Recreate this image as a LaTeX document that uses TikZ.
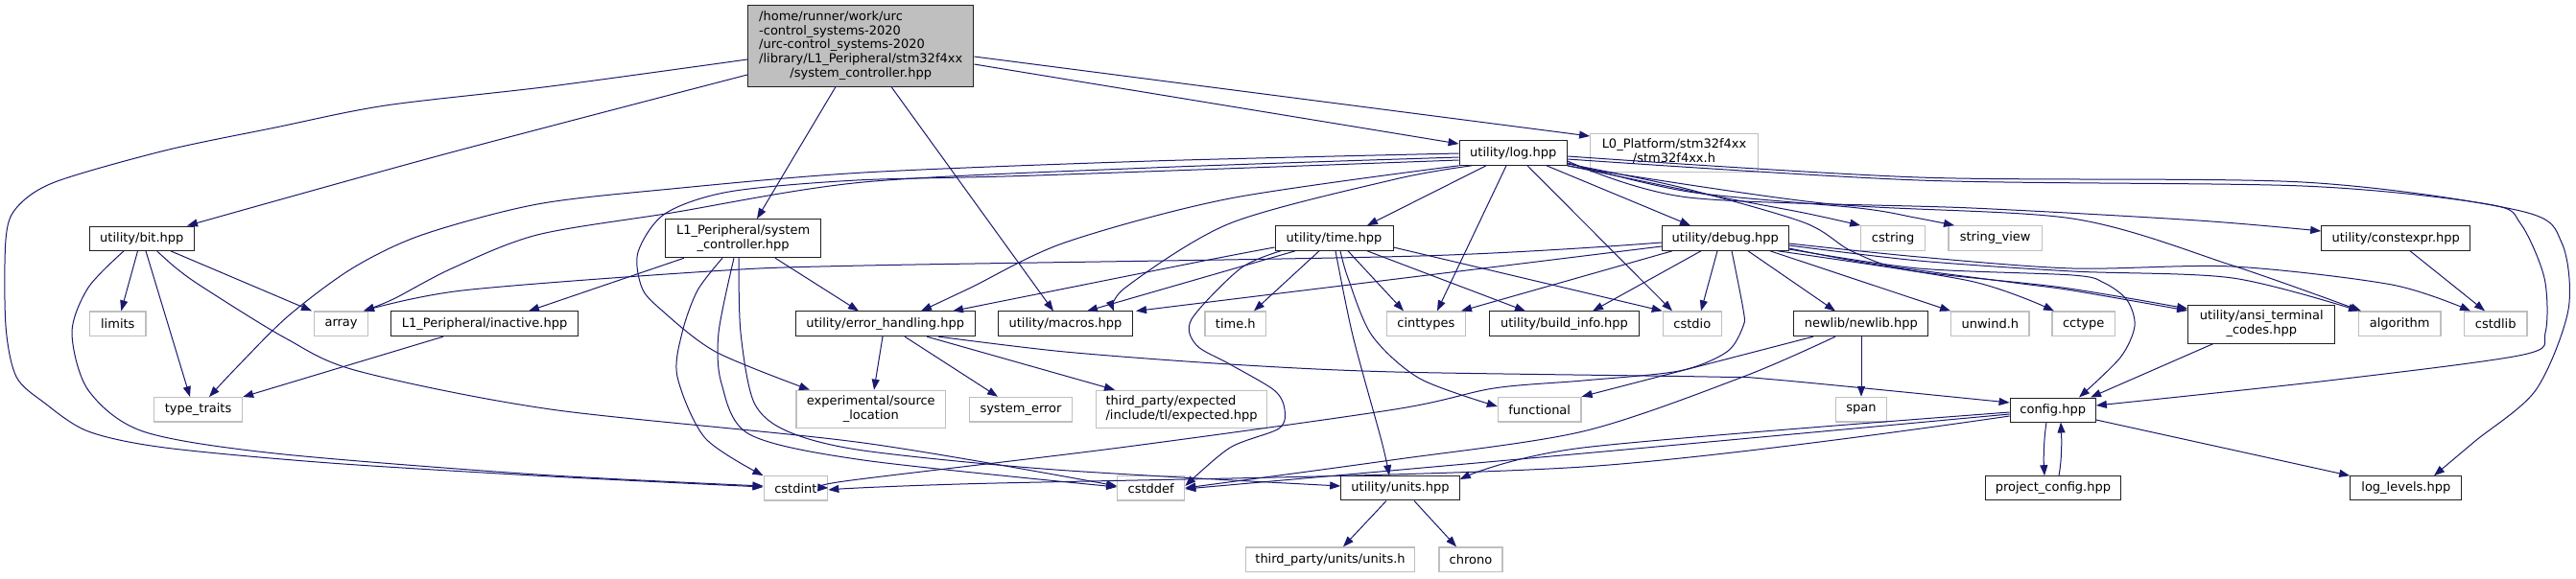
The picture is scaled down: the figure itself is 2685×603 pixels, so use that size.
\documentclass[tikz,border=0pt]{standalone}
\usepackage{fontspec}
\setmainfont{DejaVu Sans}
\usetikzlibrary{arrows.meta}
\definecolor{mb}{HTML}{191970}
\definecolor{gry}{HTML}{BFBFBF}
\definecolor{bd}{HTML}{202020}
\newcommand\nf{\fontsize{13}{14.8}\selectfont}
\newcommand\twol[2]{\begin{tabular}{@{}l@{}}#1\\\multicolumn{1}{@{}c@{}}{#2}\end{tabular}}
\tikzset{
  nd/.style={draw=bd, fill=white, line width=1pt, inner sep=0pt, font=\nf},
  ext/.style={draw=gry, fill=white, line width=1.2pt, inner sep=0pt, font=\nf},
  rootst/.style={draw=bd, fill=gry, line width=1pt, inner sep=0pt, font=\nf},
  e/.style={draw=mb, line width=1pt, -{Triangle[length=11pt,width=8pt]}, fill=none},
}
\begin{document}
\begin{tikzpicture}[x=1pt,y=-1pt]
\useasboundingbox (0,0) rectangle (2685,603);
\fill[white] (0,0) rectangle (2685,603);
% ---------- nodes ----------
\node[rootst, minimum width=235.5pt, minimum height=84.3pt] (root) at (897.2,47.9) {\begin{tabular}{@{}l@{}}/home/runner/work/urc\\-control\_systems-2020\\/urc-control\_systems-2020\\/library/L1\_Peripheral/stm32f4xx\\\multicolumn{1}{@{}c@{}}{/system\_controller.hpp}\end{tabular}};
\node[nd, minimum width=112.3pt, minimum height=25.6pt] (log) at (1577.2,159.5) {utility/log.hpp};
\node[ext, minimum width=174.6pt, minimum height=40pt] (lzero) at (1745,159.2) {\twol{L0\_Platform/stm32f4xx}{/stm32f4xx.h}};
\node[nd, minimum width=109.6pt, minimum height=25.4pt] (bit) at (147.8,248.7) {utility/bit.hpp};
\node[nd, minimum width=162.4pt, minimum height=40pt] (lsc) at (774.6,248.7) {\twol{L1\_Peripheral/system}{\_controller.hpp}};
\node[nd, minimum width=123pt, minimum height=25.6pt] (time) at (1390.5,248.5) {utility/time.hpp};
\node[nd, minimum width=132pt, minimum height=25.6pt] (debug) at (1798.3,248.5) {utility/debug.hpp};
\node[ext, minimum width=67pt, minimum height=25.6pt] (cstring) at (1973.2,248.5) {cstring};
\node[ext, minimum width=97.3pt, minimum height=25.6pt] (strview) at (2079.7,248.5) {string\_view};
\node[nd, minimum width=155pt, minimum height=25.6pt] (constexpr) at (2497.2,248.5) {utility/constexpr.hpp};
% rank 3
\node[ext, minimum width=58.5pt, minimum height=25.7pt] (limits) at (122.8,337.8) {limits};
\node[ext, minimum width=55.7pt, minimum height=25.7pt] (array) at (355.6,337.8) {array};
\node[nd, minimum width=195.2pt, minimum height=25.7pt] (inactive) at (505.1,337.8) {L1\_Peripheral/inactive.hpp};
\node[nd, minimum width=186.6pt, minimum height=25.7pt] (errh) at (922.7,337.8) {utility/error\_handling.hpp};
\node[nd, minimum width=139.5pt, minimum height=25.7pt] (macros) at (1110.5,337.8) {utility/macros.hpp};
\node[ext, minimum width=63.7pt, minimum height=25.7pt] (timeh) at (1287.8,337.8) {time.h};
\node[ext, minimum width=82.1pt, minimum height=25.7pt] (cinttypes) at (1486.4,337.8) {cinttypes};
\node[nd, minimum width=156pt, minimum height=25.7pt] (buildinfo) at (1630.5,337.8) {utility/build\_info.hpp};
\node[ext, minimum width=61pt, minimum height=25.7pt] (cstdio) at (1763.8,337.8) {cstdio};
\node[nd, minimum width=140.3pt, minimum height=25.7pt] (newlib) at (1939.8,337.8) {newlib/newlib.hpp};
\node[ext, minimum width=81.3pt, minimum height=25.7pt] (unwind) at (2074.3,337.8) {unwind.h};
\node[ext, minimum width=65.3pt, minimum height=25.7pt] (cctype) at (2171.7,337.8) {cctype};
\node[nd, minimum width=153.3pt, minimum height=40pt] (ansi) at (2357.3,338) {\twol{utility/ansi\_terminal}{\_codes.hpp}};
\node[ext, minimum width=85.7pt, minimum height=25.7pt] (algorithm) at (2501.2,337.8) {algorithm};
\node[ext, minimum width=65.7pt, minimum height=25.7pt] (cstdlib) at (2601.2,337.8) {cstdlib};
% rank 4
\node[ext, minimum width=91.9pt, minimum height=25.3pt] (ttraits) at (206.6,427.3) {type\_traits};
\node[ext, minimum width=155.6pt, minimum height=39.4pt] (expsl) at (907.8,427) {\twol{experimental/source}{\_location}};
\node[ext, minimum width=107.3pt, minimum height=25.7pt] (syserr) at (1064,427.2) {system\_error};
\node[ext, minimum width=178.5pt, minimum height=39.4pt] (expected) at (1231.6,427) {\twol{third\_party/expected}{/include/tl/expected.hpp}};
\node[ext, minimum width=86.6pt, minimum height=25.7pt] (functional) at (1604.7,427.2) {functional};
\node[ext, minimum width=53.3pt, minimum height=25.7pt] (span) at (1940,427.2) {span};
\node[nd, minimum width=89.3pt, minimum height=25pt] (config) at (2139.7,427.5) {config.hpp};
% rank 5
\node[ext, minimum width=66.6pt, minimum height=25.3pt] (cstdint) at (829.4,509.3) {cstdint};
\node[ext, minimum width=70pt, minimum height=25.3pt] (cstddef) at (1199.7,509.3) {cstddef};
\node[nd, minimum width=123.5pt, minimum height=25.3pt] (units) at (1459.5,509.3) {utility/units.hpp};
\node[nd, minimum width=141.6pt, minimum height=25.3pt] (pconfig) at (2139.9,509.3) {project\_config.hpp};
\node[nd, minimum width=116.3pt, minimum height=25pt] (loglevels) at (2507.8,509.2) {log\_levels.hpp};
% rank 6
\node[ext, minimum width=176.3pt, minimum height=25.7pt] (unitsh) at (1386.5,583.8) {third\_party/units/units.h};
\node[ext, minimum width=66pt, minimum height=25.7pt] (chrono) at (1532.9,583.8) {chrono};
% ---------- edges ----------
% root
\draw[e] plot[smooth] coordinates {(root.west |- 0,62) (574,90) (402,110) (287,133) (172,157) (57,190) (17,217) (6,250) (6,340) (17,393) (46,420) (92,450) (172,467) (344,483) (574,497) (cstdint.west |- 0,508)};
\draw[e] plot[smooth] coordinates {(root.west |- 0,78) (459,162) (bit.north -| 195,0)};
\draw[e] (root.south -| 871,0) -- (lsc.north -| 789,0);
\draw[e] (root.south -| 929,0) -- (macros.north -| 1098,0);
\draw[e] (root.east |- 0,67) -- (log.west |- 0,150);
\draw[e] (root.east |- 0,59) -- (lzero.west |- 0,142);
% bit
\draw[e] plot[smooth] coordinates {(bit.south -| 129,0) (92,300) (75,347) (92,407) (149,450) (287,473) (560,495) (cstdint.west |- 0,507)};
\draw[e] (bit.south -| 143.5,0) -- (limits.north -| 126.3,0);
\draw[e] (bit.south -| 152,0) -- (ttraits.north -| 198,0);
\draw[e] plot[smooth] coordinates {(bit.south -| 163.6,0) (184,280) (212,300) (298,353) (373,387) (574,427) (900,462) (cstddef.west |- 0,507)};
\draw[e] (bit.south -| 178,0) -- (array.north -| 325,0);
% L1P system controller
\draw[e] (lsc.south -| 713,0) -- (inactive.north -| 551,0);
\draw[e] (lsc.south -| 808,0) -- (errh.north -| 895,0);
\draw[e] plot[smooth] coordinates {(lsc.south -| 753,0) (727,303) (711,347) (706,393) (735,457) (cstdint.north west)};
\draw[e] plot[smooth] coordinates {(lsc.south -| 765,0) (749,347) (752,400) (781,453) (900,480) (cstddef.west |- 0,508)};
\draw[e] plot[smooth] coordinates {(lsc.south -| 770,0) (772,347) (786,420) (821,450) (900,470) (1100,490) (units.west |- 0,507)};
\draw[e] (inactive.south -| 462,0) -- (ttraits.north east);
% log
\draw[e] plot[smooth] coordinates {(log.west |- 0,160) (1200,168) (900,180) (700,197) (560,213) (440,245) (367,280) (300,330) (245,385) (ttraits.north -| 218,0)};
\draw[e] plot[smooth] coordinates {(log.west |- 0,164) (1200,175) (900,190) (700,222) (560,245) (471,280) (410,312) (array.north -| 379,0)};
\draw[e] plot[smooth] coordinates {(log.west |- 0,167) (1080,183) (893,188) (760,200) (693,223) (665,263) (669,300) (689,323) (746,367) (expsl.north -| 844,0)};
\draw[e] plot[smooth] coordinates {(log.south west) (1282,207) (1110,253) (1012,300) (errh.north -| 960,0)};
\draw[e] plot[smooth] coordinates {(log.south -| 1534,0) (1454,187) (1282,233) (1173,300) (macros.north -| 1161,0)};
\draw[e] (log.south -| 1549,0) -- (time.north -| 1425,0);
\draw[e] (log.south -| 1570,0) -- (cinttypes.north -| 1498,0);
\draw[e] (log.south -| 1592,0) -- (cstdio.north -| 1743,0);
\draw[e] (log.south -| 1612,0) -- (debug.north -| 1762,0);
\draw[e] plot[smooth] coordinates {(log.south east) (1780,203) (1880,222) (cstring.north west)};
\draw[e] plot[smooth] coordinates {(log.east |- 0,170) (1760,200) (1937,217) (1996,227) (strview.north -| 2037,0)};
\draw[e] plot[smooth] coordinates {(log.east |- 0,168) (1760,206) (2055,217) (2291,230) (constexpr.west |- 0,241)};
\draw[e] plot[smooth] coordinates {(log.east |- 0,173) (1900,212) (2160,228) (2327,277) (algorithm.north -| 2461,0)};
\draw[e] plot[smooth] coordinates {(log.east |- 0,171) (1750,195) (1880,232) (1930,262) (1990,282) (2150,300) (ansi.west |- 0,322)};
\draw[e] plot[smooth] coordinates {(log.east |- 0,166) (2000,188) (2400,194) (2593,213) (2627,233) (2652,290) (2653,347) (2630,370) (2427,397) (config.east |- 0,423)};
\draw[e] plot[smooth] coordinates {(log.east |- 0,163) (2000,185) (2400,190) (2627,220) (2670,253) (2677,323) (2643,407) (2580,460) (loglevels.north -| 2537,0)};
% time
\draw[e] plot[smooth] coordinates {(time.west |- 0,258) (1250,273) (errh.north -| 993,0)};
\draw[e] (time.south -| 1350,0) -- (macros.north -| 1133,0);
\draw[e] (time.south -| 1375,0) -- (timeh.north -| 1307,0);
\draw[e] (time.south -| 1405,0) -- (cinttypes.north -| 1463,0);
\draw[e] (time.south -| 1425,0) -- (buildinfo.north -| 1590,0);
\draw[e] (time.east |- 0,258) -- (cstdio.north west);
\draw[e] plot[smooth] coordinates {(time.south -| 1392,0) (1410,350) (1440,460) (units.north -| 1448,0)};
\draw[e] plot[smooth] coordinates {(time.south -| 1397,0) (1405,290) (1430,350) (1480,395) (functional.west |- 0,424)};
\draw[e] plot[smooth] coordinates {(time.south -| 1335,0) (1293,280) (1242,333) (1247,360) (1282,380) (1328,407) (1339,427) (1333,447) (1282,467) (cstddef.east |- 0,507)};
% debug
\draw[e] plot[smooth] coordinates {(debug.west |- 0,253) (1480,267) (900,277) (740,283) (482,303) (array.north -| 379,0)};
\draw[e] (debug.west |- 0,257) -- (macros.north -| 1184,0);
\draw[e] (debug.south -| 1743,0) -- (cinttypes.north -| 1523,0);
\draw[e] (debug.south -| 1773,0) -- (buildinfo.north -| 1660,0);
\draw[e] (debug.south -| 1790,0) -- (cstdio.north -| 1773,0);
\draw[e] plot[smooth] coordinates {(debug.south -| 1805,0) (1817,323) (1817,340) (1800,367) (1750,387) (1650,397) (1557,405) (1454,427) (1167,467) (880,502) (cstdint.east |- 0,509)};
\draw[e] (debug.south -| 1822,0) -- (newlib.north -| 1913,0);
\draw[e] (debug.south -| 1845,0) -- (unwind.north west);
\draw[e] plot[smooth] coordinates {(debug.south -| 1853,0) (2053,293) (cctype.north -| 2141,0)};
\draw[e] plot[smooth] coordinates {(debug.east |- 0,259) (1950,275) (2100,295) (2160,303) (ansi.west |- 0,324)};
\draw[e] plot[smooth] coordinates {(debug.east |- 0,256) (2000,272) (2160,283) (2327,290) (algorithm.north -| 2459,0)};
\draw[e] plot[smooth] coordinates {(debug.east |- 0,254) (2000,268) (2160,280) (2327,278) (2493,297) (cstdlib.north -| 2575,0)};
\draw[e] plot[smooth] coordinates {(debug.east |- 0,260) (2000,280) (2160,287) (2193,295) (2217,313) (2225,340) (2210,373) (config.north -| 2167,0)};
% constexpr
\draw[e] (constexpr.south -| 2512,0) -- (cstdlib.north -| 2590,0);
% error handling
\draw[e] (errh.south -| 920,0) -- (expsl.north -| 911,0);
\draw[e] (errh.south -| 943,0) -- (syserr.north -| 1040,0);
\draw[e] (errh.south -| 966,0) -- (expected.north -| 1162,0);
\draw[e] plot[smooth] coordinates {(errh.south -| 978,0) (1110,367) (1282,380) (1454,388) (1780,393) (1850,396) (config.west |- 0,420)};
% newlib
\draw[e] (newlib.south -| 1890,0) -- (functional.north east);
\draw[e] plot[smooth] coordinates {(newlib.south -| 1913,0) (1817,393) (1650,450) (1450,480) (cstddef.east |- 0,509)};
\draw[e] (newlib.south -| 1940,0) -- (span.north -| 1940,0);
% ansi
\draw[e] (ansi.south -| 2307,0) -- (config.north -| 2179,0);
% config
\draw[e] plot[smooth] coordinates {(config.west |- 0,434) (1650,487) (1000,505) (cstdint.east |- 0,511)};
\draw[e] plot[smooth] coordinates {(config.west |- 0,432) (1650,473) (cstddef.east |- 0,510)};
\draw[e] plot[smooth] coordinates {(config.west |- 0,430) (1650,467) (units.east |- 0,500)};
\draw[e] (config.south -| 2133,0) .. controls (2130,460) and (2130,480) .. (pconfig.north -| 2131,0);
\draw[e] (pconfig.north -| 2146,0) .. controls (2149,480) and (2149,460) .. (config.south -| 2148,0);
\draw[e] (config.east |- 0,438) -- (loglevels.north west);
% units
\draw[e] (units.south -| 1445,0) -- (unitsh.north -| 1400,0);
\draw[e] (units.south -| 1474,0) -- (chrono.north -| 1518,0);
\end{tikzpicture}
\end{document}
